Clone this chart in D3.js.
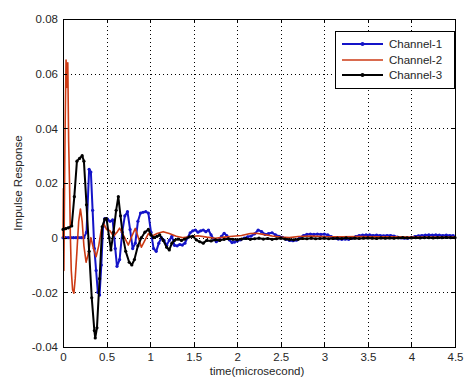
<!DOCTYPE html>
<meta charset="utf-8">
<style>
    body { margin: 0; background: #fff; }
    svg text { font-family: "Liberation Sans", Arial, sans-serif; font-size: 11.5px; fill: #262626; }
    .grid line { stroke: #000; stroke-dasharray: 1,3; stroke-width: 1; shape-rendering: crispEdges; }
    .grid path { display: none; }
    .axis path, .axis line { fill: none; stroke: #000; shape-rendering: crispEdges; }
</style>
<svg id="chart" width="464" height="378"></svg>
<script src="https://cdn.jsdelivr.net/npm/d3@7"></script>
<script>

// tick labels
var xTicks = [0, 0.5, 1, 1.5, 2, 2.5, 3, 3.5, 4, 4.5];
var yTicks = [-0.04, -0.02, 0, 0.02, 0.04, 0.06, 0.08];
var yTickLabels = ["-0.04", "-0.02", "0", "0.02", "0.04", "0.06", "0.08"];
var seriesNames = ["Channel-1", "Channel-2", "Channel-3"];

// Channel-1 (blue, dot markers)
var ch1Time = [0, 0.03, 0.06, 0.09, 0.12, 0.15, 0.18, 0.21, 0.24, 0.27, 0.30, 0.32, 0.34, 0.36, 0.38, 0.40, 0.42, 0.44, 0.46, 0.48,
    0.51, 0.54, 0.57, 0.60, 0.62, 0.65, 0.68, 0.71, 0.74, 0.77, 0.80, 0.83, 0.86, 0.89, 0.92, 0.95, 0.98, 1.01, 1.04, 1.07,
    1.10, 1.13, 1.16, 1.19, 1.22, 1.25, 1.28, 1.31, 1.34, 1.37, 1.40, 1.43, 1.46, 1.49, 1.52, 1.55, 1.58, 1.61, 1.64, 1.67,
    1.70, 1.73, 1.76, 1.79, 1.82, 1.85, 1.88, 1.91, 1.94, 1.97, 2.00, 2.04, 2.08, 2.12, 2.16, 2.20, 2.24, 2.28, 2.32, 2.36,
    2.40, 2.44, 2.48, 2.52, 2.56, 2.60, 2.64, 2.68, 2.72, 2.76, 2.80, 2.84, 2.88, 2.92, 2.96, 3.00, 3.04, 3.08, 3.12, 3.16,
    3.20, 3.24, 3.28, 3.32, 3.36, 3.40, 3.44, 3.48, 3.52, 3.56, 3.60, 3.64, 3.68, 3.72, 3.76, 3.80, 3.84, 3.88, 3.92, 3.96,
    4.00, 4.04, 4.08, 4.12, 4.16, 4.20, 4.24, 4.28, 4.32, 4.36, 4.40, 4.44, 4.48];
var ch1Values = [0, 0, 0, 0, 0, 0, 0, 0, 0, 0.002, 0.025, 0.024, 0.010, -0.004, -0.012, -0.020, -0.021, -0.010, 0.004, 0.007,
    0.0068, 0.006, 0.0065, -0.004, -0.0105, -0.008, 0.002, 0.008, 0.0095, 0.003, -0.004, -0.002, 0.006, 0.009, 0.0093, 0.0095, 0.009, 0.002, -0.004, -0.005,
    -0.002, 0, -0.001, -0.0028, -0.001, 0.0005, -0.0028, -0.003, -0.0025, -0.0027, -0.002, 0, 0.0018, 0.0025, 0.0028, 0.002, 0.0025, 0.0028, 0.0022, 0.0028,
    0.001, -0.0005, -0.0015, -0.0008, 0.0005, 0.0016, 0.0008, -0.0008, -0.0018, -0.0016, -0.0012, -0.0008, -0.0002, 0.0003, 0.0006, 0.0014, 0.0028, 0.0022, 0.0012, 0.0015,
    0.0018, 0.001, 0.0005, 0.0001, -0.0006, -0.001, -0.0011, -0.0009, 0, 0.0008, 0.0012, 0.0013, 0.0012, 0.0013, 0.0012, 0.0013, 0.001, 0.0004, -0.0002, -0.0005,
    -0.0006, -0.0005, -0.0006, -0.0002, 0.0004, 0.0008, 0.0009, 0.001, 0.001, 0.0008, 0.0009, 0.0008, 0.0007, 0.0008, 0.0008, 0.0006, 0.0002, -0.0001, -0.0002, -0.0002,
    0.0001, 0.0004, 0.0007, 0.0008, 0.0009, 0.001, 0.0009, 0.001, 0.0009, 0.0008, 0.0009, 0.0008, 0.0008];

// Channel-2 (red, no markers)
var ch2Time = [0, 0.005, 0.01, 0.02, 0.025, 0.035, 0.045, 0.055, 0.065, 0.075, 0.085, 0.095, 0.11, 0.125, 0.14, 0.16, 0.18, 0.20, 0.22, 0.24,
    0.265, 0.29, 0.32, 0.35, 0.38, 0.41, 0.44, 0.47, 0.50, 0.54, 0.58, 0.62, 0.65, 0.70, 0.75, 0.79, 0.83, 0.87, 0.90, 0.94,
    0.98, 1.02, 1.08, 1.15, 1.22, 1.30, 1.38, 1.46, 1.55, 1.65, 1.75, 1.85, 1.95, 2.05, 2.15, 2.22, 2.30, 2.40, 2.50, 2.60,
    2.70, 2.85, 3.0, 3.2, 3.4, 3.6, 3.8, 4.0, 4.2, 4.5];
var ch2Values = [0, 0.018, -0.012, 0.027, 0.042, 0.065, 0.055, 0.064, 0.035, 0.020, 0.0, -0.012, -0.019, -0.0203, -0.015, -0.005, 0.006, 0.0105, 0.006, -0.003,
    -0.009, -0.006, 0.0, -0.004, -0.007, -0.003, 0.003, 0.005, 0.003, 0.0025, 0.0005, 0.002, 0.0035, 0.0005, -0.0027, 0.0005, 0.0034, -0.0005, -0.0035, -0.001,
    0.0015, 0.0005, 0.0015, 0.0022, 0.0015, 0.0005, 0.0, 0.0003, 0.0007, 0.0002, -0.0002, 0.0002, 0.0005, 0.0008, 0.0015, 0.0016, 0.0012, 0.0006, 0.0002, 0.0,
    0.0004, 0.0006, 0.0004, 0.0003, 0.0004, 0.0003, 0.0003, 0.0002, 0.0002, 0.0002];

// Channel-3 (black, dot markers)
var ch3Time = [0, 0.03, 0.06, 0.10, 0.13, 0.16, 0.19, 0.22, 0.24, 0.27, 0.30, 0.33, 0.36, 0.37, 0.39, 0.42, 0.45, 0.48, 0.50, 0.53,
    0.55, 0.58, 0.61, 0.635, 0.66, 0.69, 0.72, 0.76, 0.79, 0.82, 0.86, 0.90, 0.94, 0.98, 1.01, 1.04, 1.08, 1.11, 1.15, 1.19,
    1.22, 1.25, 1.28, 1.32, 1.36, 1.40, 1.45, 1.49, 1.53, 1.57, 1.61, 1.65, 1.70, 1.75, 1.80, 1.85, 1.90, 1.95, 2.00, 2.05,
    2.10, 2.15, 2.20, 2.25, 2.30, 2.35, 2.40, 2.45, 2.50, 2.55, 2.60, 2.65, 2.70, 2.75, 2.80, 2.85, 2.90, 2.95, 3.00, 3.05,
    3.10, 3.15, 3.20, 3.25, 3.30, 3.35, 3.40, 3.45, 3.50, 3.55, 3.60, 3.65, 3.70, 3.75, 3.80, 3.85, 3.90, 3.95, 4.00, 4.05,
    4.10, 4.15, 4.20, 4.25, 4.30, 4.35, 4.40, 4.45, 4.50];
var ch3Values = [0.003, 0.0033, 0.0036, 0.0043, 0.015, 0.028, 0.029, 0.030, 0.028, 0.012, -0.005, -0.022, -0.034, -0.0367, -0.033, -0.015, 0.004, 0.0068, 0.007, 0.0,
    -0.0045, 0.002, 0.010, 0.015, 0.008, 0.0, -0.005, -0.009, -0.010, -0.008, -0.003, 0.0, 0.002, 0.003, 0.001, 0.0, 0.0005, 0.001, -0.001, -0.0035,
    -0.0045, -0.002, -0.001, -0.0005, -0.001, -0.0005, 0.0003, 0.0005, -0.0008, -0.0015, -0.002, -0.001, -0.0012, -0.0008, -0.001, -0.0006, -0.0004, -0.0006, -0.0008, -0.0005,
    -0.0003, -0.0006, -0.0004, -0.0002, -0.0005, -0.0003, -0.0006, -0.0004, -0.0002, -0.0005, -0.0007, -0.0008, -0.0006, -0.0003, -0.0004, -0.0002, -0.0004, -0.0003, -0.0002, -0.0004,
    -0.0003, -0.0002, -0.0003, -0.0001, -0.0003, -0.0002, -0.0003, -0.0002, -0.0001, -0.0002, -0.0003, -0.0001, -0.0002, -0.0001, -0.0002, -0.0001, 0, -0.0001, -0.0001, 0,
    -0.0001, 0, 0, -0.0001, 0, 0, 0.0001, 0, 0];

var svg = d3.select("#chart");
var plotLeft = 63, plotRight = 455, plotTop = 19, plotBottom = 347;

var x = d3.scaleLinear().domain([0, 4.5]).range([plotLeft, plotRight]);
var y = d3.scaleLinear().domain([-0.04, 0.08]).range([plotBottom, plotTop]);

// dotted grid
svg.append("g").attr("class", "grid")
    .attr("transform", "translate(0," + plotBottom + ")")
    .call(d3.axisBottom(x).tickValues(xTicks).tickSize(-(plotBottom - plotTop)).tickFormat(""));
svg.append("g").attr("class", "grid")
    .attr("transform", "translate(" + plotLeft + ",0)")
    .call(d3.axisLeft(y).tickValues(yTicks).tickSize(-(plotRight - plotLeft)).tickFormat(""));

// lines
var series = [
    { t: ch1Time, v: ch1Values, color: "#1414c8", width: 2, marker: true },
    { t: ch2Time, v: ch2Values, color: "#cc3a14", width: 1.6, marker: false },
    { t: ch3Time, v: ch3Values, color: "#000000", width: 2, marker: true }
];

var line = d3.line().x(d => x(d[0])).y(d => y(d[1]));

series.forEach(function(s) {
    var pts = s.t.map((t, i) => [t, s.v[i]]);
    svg.append("path")
        .datum(pts)
        .attr("d", line)
        .style("fill", "none")
        .style("stroke", s.color)
        .style("stroke-width", s.width)
        .style("stroke-linejoin", "round");
    if (s.marker) {
        svg.append("g").selectAll("circle")
            .data(pts)
            .enter()
            .append("circle")
            .attr("cx", d => x(d[0]))
            .attr("cy", d => y(d[1]))
            .attr("r", 1.6)
            .style("fill", s.color);
    }
});

// axes box
svg.append("rect")
    .attr("x", plotLeft).attr("y", plotTop)
    .attr("width", plotRight - plotLeft).attr("height", plotBottom - plotTop)
    .style("fill", "none").style("stroke", "#000").style("shape-rendering", "crispEdges");

// x axis (ticks inside)
var xAxis = svg.append("g").attr("class", "axis")
    .attr("transform", "translate(0," + plotBottom + ")")
    .call(d3.axisBottom(x).tickValues(xTicks).tickSizeInner(-4).tickSizeOuter(0).tickPadding(6)
        .tickFormat(d => String(d)));
xAxis.select(".domain").remove();
svg.append("g").attr("class", "axis")
    .attr("transform", "translate(0," + plotTop + ")")
    .call(d3.axisTop(x).tickValues(xTicks).tickSizeInner(-4).tickSizeOuter(0).tickFormat(""))
    .select(".domain").remove();

// y axis
var yAxis = svg.append("g").attr("class", "axis")
    .attr("transform", "translate(" + plotLeft + ",0)")
    .call(d3.axisLeft(y).tickValues(yTicks).tickSizeInner(-4).tickSizeOuter(0).tickPadding(5)
        .tickFormat((d, i) => yTickLabels[i]));
yAxis.select(".domain").remove();
svg.append("g").attr("class", "axis")
    .attr("transform", "translate(" + plotRight + ",0)")
    .call(d3.axisRight(y).tickValues(yTicks).tickSizeInner(-4).tickSizeOuter(0).tickFormat(""))
    .select(".domain").remove();

// axis titles
svg.append("text")
    .attr("x", (plotLeft + plotRight) / 2 - 2).attr("y", 375)
    .attr("text-anchor", "middle")
    .text("time(microsecond)");
svg.append("text")
    .attr("transform", "translate(22," + ((plotTop + plotBottom) / 2) + ") rotate(-90)")
    .attr("text-anchor", "middle")
    .text("Impulse Response");

// legend
var legend = svg.append("g");
legend.append("rect")
    .attr("x", 335).attr("y", 31).attr("width", 119).attr("height", 57)
    .style("fill", "#fff").style("stroke", "#000").style("shape-rendering", "crispEdges");
var legendY = [44, 60, 75];
series.forEach(function(s, i) {
    legend.append("line")
        .attr("x1", 342).attr("x2", 383)
        .attr("y1", legendY[i]).attr("y2", legendY[i])
        .style("stroke", s.color).style("stroke-width", s.width);
    if (s.marker) {
        legend.append("circle")
            .attr("cx", 362.5).attr("cy", legendY[i]).attr("r", 2)
            .style("fill", s.color);
    }
    legend.append("text")
        .attr("x", 389).attr("y", legendY[i]).attr("dy", "0.35em")
        .text(seriesNames[i]);
});

</script>
